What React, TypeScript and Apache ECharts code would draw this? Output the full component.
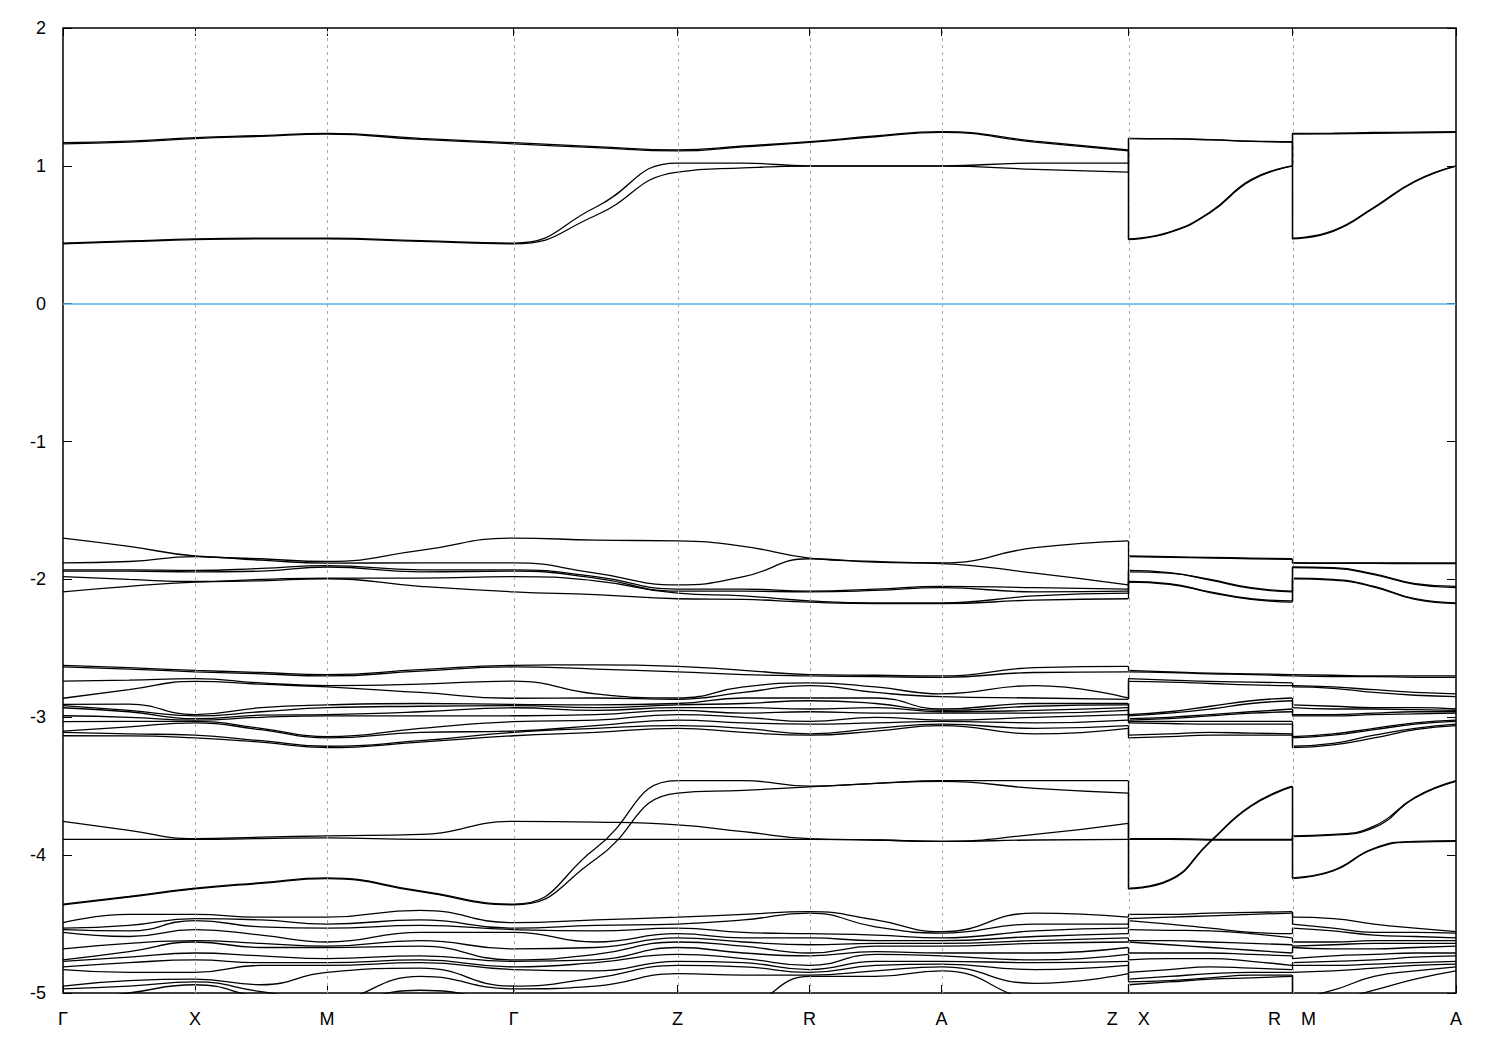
import React, { useEffect, useRef } from 'react';
import * as echarts from 'echarts';

// k-path sample positions (path length units)
const K_MAIN = [0, 0.25, 0.5, 0.75, 1.0, 1.3536, 1.7071, 2.0176, 2.3281, 2.5781, 2.8281, 3.0781, 3.3281, 3.6817, 4.0352];
const K_XR = [4.0352, 4.1905, 4.3457, 4.501, 4.6562];
const K_MA = [4.6562, 4.8115, 4.9667, 5.122, 5.2772];

const TICK_POS = [0, 0.5, 1.0, 1.7071, 2.3281, 2.8281, 3.3281, 4.0352, 4.6562, 5.2772];
const TICK_LABELS = ['Γ', 'X', 'M', 'Γ', 'Z', 'R', 'A', 'Z\u00a0\u00a0\u00a0\u00a0X', 'R\u00a0\u00a0\u00a0\u00a0M', 'A'];
const GRID_POS = [0.5, 1.0, 1.7071, 2.3281, 2.8281, 3.3281, 4.0352, 4.6562];
const Y_TICKS = [-5, -4, -3, -2, -1, 0, 1, 2];
const FERMI = 0;

// Each band: 15 values on K_MAIN, then 5 on K_XR, then 5 on K_MA
const TOP_BANDS = [
  [1.168, 1.18, 1.205, 1.22, 1.236, 1.2, 1.168, 1.14, 1.115, 1.144, 1.175, 1.217, 1.248, 1.18, 1.115, 0.47, 0.52, 0.665, 0.9, 1.0, 1.236, 1.238, 1.242, 1.245, 1.248],
  [1.16, 1.172, 1.198, 1.214, 1.23, 1.192, 1.16, 1.132, 1.108, 1.138, 1.17, 1.211, 1.243, 1.172, 1.108, 0.465, 0.515, 0.66, 0.895, 0.998, 1.23, 1.233, 1.236, 1.24, 1.243],
  [0.44, 0.455, 0.47, 0.475, 0.475, 0.457, 0.44, 0.7, 1.02, 1.02, 1.0, 1.0, 1.0, 1.02, 1.02, 1.2, 1.197, 1.19, 1.18, 1.175, 0.475, 0.53, 0.7, 0.89, 1.0],
  [0.435, 0.45, 0.465, 0.47, 0.47, 0.452, 0.435, 0.64, 0.955, 0.985, 0.998, 0.998, 0.998, 0.975, 0.955, 1.198, 1.195, 1.188, 1.178, 1.172, 0.47, 0.525, 0.695, 0.885, 0.998],
];

const G2_BANDS = [
  [-1.7, -1.76, -1.83, -1.85, -1.87, -1.79, -1.7, -1.715, -1.72, -1.76, -1.845, -1.87, -1.88, -1.77, -1.72, -1.83, -1.835, -1.84, -1.845, -1.85, -1.878, -1.88, -1.88, -1.88, -1.88],
  [-1.88, -1.87, -1.835, -1.86, -1.882, -1.88, -1.88, -1.955, -2.04, -1.98, -1.85, -1.875, -1.885, -1.955, -2.04, -1.835, -1.84, -1.845, -1.85, -1.855, -1.882, -1.884, -1.884, -1.885, -1.885],
  [-1.93, -1.93, -1.935, -1.92, -1.9, -1.93, -1.93, -1.98, -2.07, -2.07, -2.085, -2.07, -2.05, -2.06, -2.07, -1.935, -1.95, -2.0, -2.06, -2.085, -1.91, -1.915, -1.96, -2.03, -2.05],
  [-1.94, -1.94, -1.945, -1.94, -1.91, -1.945, -1.94, -1.99, -2.085, -2.085, -2.09, -2.08, -2.06, -2.09, -2.085, -1.945, -1.955, -2.005, -2.065, -2.09, -1.915, -1.92, -1.965, -2.035, -2.06],
  [-1.98, -2.0, -2.015, -2.0, -1.99, -1.99, -1.98, -2.01, -2.1, -2.12, -2.155, -2.17, -2.17, -2.12, -2.1, -2.015, -2.03, -2.09, -2.14, -2.155, -1.99, -2.0, -2.05, -2.14, -2.17],
  [-2.09, -2.05, -2.02, -2.01, -1.995, -2.05, -2.09, -2.11, -2.14, -2.145, -2.165, -2.175, -2.175, -2.15, -2.14, -2.02, -2.035, -2.095, -2.145, -2.165, -1.995, -2.005, -2.055, -2.145, -2.175],
];

const G4_BANDS = [
  [-4.355, -4.3, -4.24, -4.2, -4.165, -4.26, -4.355, -3.95, -3.46, -3.46, -3.5, -3.48, -3.46, -3.46, -3.46, -4.24, -4.18, -3.9, -3.64, -3.5, -4.165, -4.11, -3.95, -3.9, -3.895],
  [-4.36, -4.305, -4.245, -4.205, -4.17, -4.265, -4.36, -4.03, -3.55, -3.53, -3.505, -3.48, -3.465, -3.515, -3.55, -4.245, -4.185, -3.905, -3.645, -3.505, -4.17, -4.115, -3.955, -3.905, -3.9],
  [-3.755, -3.82, -3.88, -3.87, -3.86, -3.85, -3.755, -3.76, -3.78, -3.83, -3.88, -3.89, -3.9, -3.85, -3.77, -3.88, -3.88, -3.885, -3.885, -3.885, -3.86, -3.85, -3.79, -3.58, -3.46],
  [-3.885, -3.885, -3.885, -3.88, -3.875, -3.885, -3.885, -3.885, -3.885, -3.885, -3.885, -3.89, -3.9, -3.89, -3.885, -3.885, -3.885, -3.89, -3.89, -3.89, -3.865, -3.855, -3.8, -3.585, -3.465],
];

// Rows = energies at each k sample (sorted), for dense groups
const G3_MAIN = [
  [-2.623, -2.635, -2.737, -2.862, -2.906, -2.916, -2.931, -2.989, -3.032, -3.1, -3.109, -3.134],
  [-2.64, -2.65, -2.73, -2.8, -2.905, -2.95, -2.96, -3.0, -3.03, -3.07, -3.12, -3.135],
  [-2.66, -2.67, -2.72, -2.74, -2.98, -2.99, -3.01, -3.02, -3.03, -3.04, -3.13, -3.15],
  [-2.675, -2.685, -2.75, -2.76, -2.93, -2.96, -2.985, -3.0, -3.08, -3.09, -3.17, -3.18],
  [-2.69, -2.7, -2.77, -2.78, -2.91, -2.93, -2.98, -2.99, -3.14, -3.15, -3.21, -3.22],
  [-2.655, -2.665, -2.76, -2.82, -2.9, -2.92, -2.96, -2.99, -3.08, -3.11, -3.17, -3.18],
  [-2.623, -2.635, -2.737, -2.862, -2.906, -2.916, -2.931, -2.989, -3.032, -3.1, -3.109, -3.134],
  [-2.62, -2.65, -2.83, -2.86, -2.91, -2.93, -2.95, -2.98, -3.02, -3.06, -3.08, -3.11],
  [-2.63, -2.67, -2.86, -2.87, -2.9, -2.91, -2.93, -2.95, -2.98, -3.02, -3.06, -3.08],
  [-2.66, -2.69, -2.78, -2.82, -2.86, -2.9, -2.93, -2.97, -3.0, -3.04, -3.08, -3.11],
  [-2.69, -2.7, -2.75, -2.77, -2.86, -2.88, -2.94, -2.96, -3.03, -3.05, -3.12, -3.13],
  [-2.695, -2.705, -2.78, -2.82, -2.86, -2.9, -2.93, -2.97, -3.0, -3.04, -3.08, -3.1],
  [-2.7, -2.71, -2.83, -2.85, -2.94, -2.95, -2.96, -2.97, -3.02, -3.03, -3.05, -3.06],
  [-2.64, -2.675, -2.77, -2.86, -2.9, -2.92, -2.95, -2.97, -3.0, -3.04, -3.08, -3.12],
  [-2.63, -2.67, -2.86, -2.87, -2.9, -2.91, -2.93, -2.95, -2.98, -3.02, -3.06, -3.08],
];
const G3_XR = [
  [-2.66, -2.67, -2.72, -2.74, -2.98, -2.99, -3.01, -3.02, -3.03, -3.04, -3.13, -3.15],
  [-2.67, -2.675, -2.73, -2.745, -2.96, -2.97, -3.0, -3.01, -3.03, -3.045, -3.12, -3.14],
  [-2.68, -2.685, -2.74, -2.755, -2.92, -2.94, -2.98, -2.99, -3.03, -3.05, -3.11, -3.13],
  [-2.685, -2.69, -2.745, -2.765, -2.88, -2.9, -2.96, -2.97, -3.03, -3.05, -3.115, -3.13],
  [-2.69, -2.7, -2.75, -2.77, -2.86, -2.88, -2.94, -2.96, -3.03, -3.05, -3.12, -3.13],
];
const G3_MA = [
  [-2.69, -2.7, -2.77, -2.78, -2.91, -2.93, -2.98, -2.99, -3.14, -3.15, -3.21, -3.22],
  [-2.695, -2.705, -2.78, -2.79, -2.92, -2.94, -2.98, -2.99, -3.12, -3.13, -3.19, -3.2],
  [-2.7, -2.705, -2.8, -2.82, -2.93, -2.94, -2.97, -2.98, -3.08, -3.09, -3.13, -3.15],
  [-2.7, -2.71, -2.82, -2.84, -2.93, -2.945, -2.96, -2.975, -3.04, -3.05, -3.08, -3.09],
  [-2.7, -2.71, -2.83, -2.85, -2.94, -2.95, -2.96, -2.97, -3.02, -3.03, -3.05, -3.06],
];

const G5_MAIN = [
  [-4.49, -4.53, -4.54, -4.56, -4.68, -4.76, -4.77, -4.81, -4.83, -4.95, -4.97, -5.06],
  [-4.43, -4.51, -4.55, -4.59, -4.64, -4.7, -4.74, -4.78, -4.85, -4.91, -4.95, -5.0],
  [-4.43, -4.46, -4.475, -4.54, -4.62, -4.63, -4.71, -4.76, -4.85, -4.9, -4.92, -4.94],
  [-4.45, -4.47, -4.52, -4.58, -4.64, -4.67, -4.73, -4.78, -4.8, -4.94, -4.99, -5.03],
  [-4.45, -4.5, -4.53, -4.63, -4.66, -4.67, -4.75, -4.78, -4.8, -4.85, -5.05, -5.07],
  [-4.4, -4.47, -4.51, -4.56, -4.62, -4.66, -4.73, -4.76, -4.78, -4.82, -4.88, -4.98],
  [-4.49, -4.53, -4.54, -4.56, -4.68, -4.76, -4.77, -4.81, -4.83, -4.95, -4.97, -5.06],
  [-4.47, -4.51, -4.55, -4.63, -4.67, -4.72, -4.76, -4.78, -4.84, -4.89, -4.95, -5.08],
  [-4.45, -4.5, -4.53, -4.57, -4.6, -4.63, -4.67, -4.72, -4.77, -4.8, -4.86, -5.1],
  [-4.43, -4.47, -4.56, -4.6, -4.63, -4.66, -4.71, -4.75, -4.78, -4.81, -4.87, -5.08],
  [-4.41, -4.42, -4.57, -4.6, -4.65, -4.71, -4.73, -4.8, -4.83, -4.85, -4.87, -4.88],
  [-4.47, -4.52, -4.58, -4.62, -4.64, -4.66, -4.7, -4.72, -4.77, -4.8, -4.84, -4.88],
  [-4.555, -4.565, -4.6, -4.62, -4.64, -4.66, -4.71, -4.73, -4.77, -4.79, -4.81, -4.84],
  [-4.42, -4.5, -4.55, -4.59, -4.62, -4.64, -4.71, -4.76, -4.78, -4.83, -4.93, -5.05],
  [-4.45, -4.5, -4.53, -4.57, -4.6, -4.63, -4.67, -4.72, -4.77, -4.8, -4.86, -5.1],
];
const G5_XR = [
  [-4.43, -4.46, -4.475, -4.54, -4.62, -4.63, -4.71, -4.76, -4.85, -4.9, -4.92, -4.94],
  [-4.43, -4.45, -4.5, -4.545, -4.62, -4.65, -4.71, -4.75, -4.83, -4.88, -4.91, -4.92],
  [-4.42, -4.44, -4.53, -4.55, -4.63, -4.67, -4.71, -4.75, -4.81, -4.86, -4.89, -4.9],
  [-4.415, -4.43, -4.56, -4.57, -4.64, -4.69, -4.72, -4.77, -4.82, -4.85, -4.87, -4.89],
  [-4.41, -4.42, -4.57, -4.6, -4.65, -4.71, -4.73, -4.8, -4.83, -4.85, -4.87, -4.88],
];
const G5_MA = [
  [-4.45, -4.5, -4.53, -4.63, -4.66, -4.67, -4.75, -4.78, -4.8, -4.85, -5.05, -5.07],
  [-4.46, -4.53, -4.55, -4.63, -4.65, -4.68, -4.73, -4.77, -4.8, -4.84, -4.98, -5.05],
  [-4.5, -4.56, -4.58, -4.62, -4.64, -4.68, -4.72, -4.76, -4.79, -4.82, -4.88, -4.98],
  [-4.53, -4.56, -4.59, -4.62, -4.64, -4.67, -4.71, -4.74, -4.78, -4.8, -4.84, -4.9],
  [-4.555, -4.565, -4.6, -4.62, -4.64, -4.66, -4.71, -4.73, -4.77, -4.79, -4.81, -4.84],
];

function transpose(rows: number[][]): number[][] {
  return rows[0].map((_, j) => rows.map((r) => r[j]));
}
function bandsFromRows(main: number[][], xr: number[][], ma: number[][]): number[][] {
  const m = transpose(main);
  const x = transpose(xr);
  const a = transpose(ma);
  return m.map((b, i) => [...b, ...x[i], ...a[i]]);
}

const ALL_BANDS: number[][] = [
  ...TOP_BANDS,
  ...G2_BANDS,
  ...bandsFromRows(G3_MAIN, G3_XR, G3_MA),
  ...G4_BANDS,
  ...bandsFromRows(G5_MAIN, G5_XR, G5_MA),
];

const FONT = 'Liberation Sans, Arial, Helvetica, sans-serif';

function buildOption() {
  const lineBase = {
    type: 'line',
    xAxisIndex: 0,
    yAxisIndex: 0,
    showSymbol: false,
    symbol: 'none',
    smooth: 0.5,
    silent: true,
    clip: true,
    z: 3,
    lineStyle: { color: '#000', width: 1.3 },
  };
  const series: any[] = [];
  // reference lines (grid + Fermi level)
  series.push({
    type: 'line',
    data: [],
    silent: true,
    z: 1,
    markLine: {
      silent: true,
      symbol: ['none', 'none'],
      label: { show: false },
      animation: false,
      data: [
        ...GRID_POS.map((v) => ({ xAxis: v, lineStyle: { color: '#a8a8a8', type: [3, 4], width: 1 } })),
        { yAxis: FERMI, lineStyle: { color: '#56b4e9', type: 'solid', width: 1.5 } },
      ],
    },
  });
  const connectors: any[] = [];
  const clampY = (v: number) => Math.max(-5, Math.min(2, v));
  ALL_BANDS.forEach((b) => {
    series.push({ ...lineBase, data: K_MAIN.map((k, i) => [k, b[i]]) });
    series.push({ ...lineBase, data: K_XR.map((k, i) => [k, b[15 + i]]) });
    series.push({ ...lineBase, data: K_MA.map((k, i) => [k, b[20 + i]]) });
    connectors.push({ coords: [[K_MAIN[14], clampY(b[14])], [K_XR[0], clampY(b[15])]] });
    connectors.push({ coords: [[K_XR[4], clampY(b[19])], [K_MA[0], clampY(b[20])]] });
  });
  series.push({
    type: 'lines',
    coordinateSystem: 'cartesian2d',
    silent: true,
    z: 3,
    data: connectors,
    lineStyle: { color: '#000', width: 1.3, opacity: 1 },
  });

  const labelFor = (v: number) => {
    const i = TICK_POS.findIndex((p) => Math.abs(p - v) < 1e-6);
    return i >= 0 ? TICK_LABELS[i] : '';
  };

  return {
    animation: false,
    backgroundColor: '#fff',
    grid: {
      left: 63,
      right: 44,
      top: 28,
      bottom: 57,
      show: true,
      borderColor: '#000',
      borderWidth: 1.5,
      backgroundColor: 'transparent',
    },
    xAxis: [
      {
        type: 'value',
        min: 0,
        max: TICK_POS[TICK_POS.length - 1],
        position: 'bottom',
        axisLine: { show: false, onZero: false },
        splitLine: { show: false },
        axisTick: { show: true, inside: true, length: 8, customValues: TICK_POS, lineStyle: { color: '#000', width: 1 } },
        axisLabel: {
          customValues: TICK_POS,
          formatter: (v: number) => labelFor(v),
          color: '#000',
          fontSize: 18,
          fontFamily: FONT,
          margin: 17,
          showMinLabel: true,
          showMaxLabel: true,
        },
      },
      {
        type: 'value',
        min: 0,
        max: TICK_POS[TICK_POS.length - 1],
        position: 'top',
        axisLine: { show: false, onZero: false },
        splitLine: { show: false },
        axisTick: { show: true, inside: true, length: 8, customValues: TICK_POS, lineStyle: { color: '#000', width: 1 } },
        axisLabel: { show: false },
      },
    ],
    yAxis: [
      {
        type: 'value',
        min: -5,
        max: 2,
        interval: 1,
        position: 'left',
        axisLine: { show: false, onZero: false },
        splitLine: { show: false },
        axisTick: { show: true, inside: true, length: 9, lineStyle: { color: '#000', width: 1 } },
        axisLabel: { color: '#000', fontSize: 18, fontFamily: FONT, margin: 17, customValues: Y_TICKS },
      },
      {
        type: 'value',
        min: -5,
        max: 2,
        interval: 1,
        position: 'right',
        axisLine: { show: false, onZero: false },
        splitLine: { show: false },
        axisTick: { show: true, inside: true, length: 9, lineStyle: { color: '#000', width: 1 } },
        axisLabel: { show: false },
      },
    ],
    series,
  };
}

export default function App() {
  const ref = useRef<HTMLDivElement>(null);
  useEffect(() => {
    if (!ref.current) return;
    const chart = echarts.init(ref.current, undefined, { renderer: 'svg' });
    chart.setOption(buildOption() as any);
    return () => chart.dispose();
  }, []);
  return (
    <div
      ref={ref}
      style={{ position: 'absolute', left: 0, top: 0, width: 1500, height: 1050, background: '#fff' }}
    />
  );
}
